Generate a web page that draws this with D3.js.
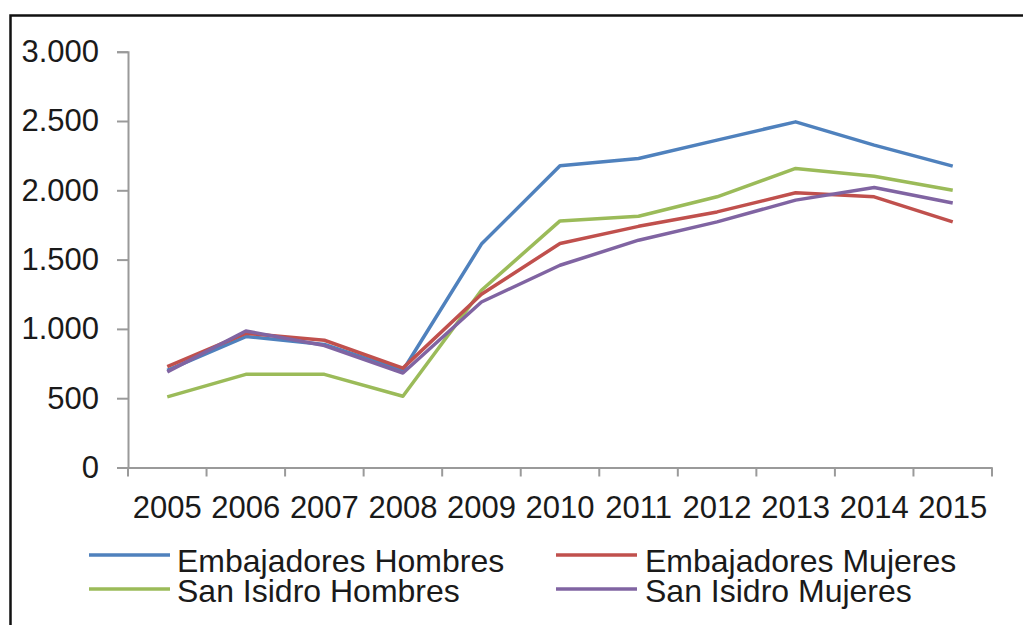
<!DOCTYPE html>
<html>
<head>
<meta charset="utf-8">
<script src="https://cdn.jsdelivr.net/npm/d3@7"></script>
<style>
  html, body { margin: 0; padding: 0; background: #fff; }
  svg { display: block; font-family: "Liberation Sans", Arial, Helvetica, sans-serif; }
</style>
</head>
<body>
<svg id="chart" width="1023" height="625"></svg>
<script>
const years = ["2005","2006","2007","2008","2009","2010","2011","2012","2013","2014","2015"];
const embajadoresHombres = [700, 945, 888, 700, 1612, 2177, 2230, 2362, 2494, 2326, 2174];
const embajadoresMujeres = [728, 968, 918, 717, 1250, 1616, 1740, 1844, 1982, 1953, 1772];
const sanIsidroHombres   = [510, 672, 672, 514, 1279, 1779, 1813, 1953, 2158, 2102, 2001];
const sanIsidroMujeres   = [690, 985, 880, 682, 1194, 1459, 1640, 1772, 1929, 2020, 1909];
const seriesNames = ["Embajadores Hombres", "Embajadores Mujeres", "San Isidro Hombres", "San Isidro Mujeres"];
const seriesColors = ["#4F81BD", "#C0504D", "#9BBB59", "#8064A2"];
const yTicks = [0, 500, 1000, 1500, 2000, 2500, 3000];

(function () {
const seriesData = [embajadoresHombres, embajadoresMujeres, sanIsidroHombres, sanIsidroMujeres];
const drawOrder = [0, 2, 1, 3];

const svg = d3.select("#chart");
const fontSize = 31;
const legendFontSize = 32;
const textColor = "#1a1a1a";
const axisColor = "#9a9a9a";

// frame (cropped at right and bottom)
svg.append("rect")
  .attr("x", 10.5).attr("y", 15.5)
  .attr("width", 1100).attr("height", 700)
  .attr("fill", "none").attr("stroke", "#111").attr("stroke-width", 2.5);

const plotLeft = 128, plotRight = 992, plotTop = 51.7, plotBottom = 467.5;

const x = d3.scaleBand().domain(years).range([plotLeft, plotRight]).padding(0);
const y = d3.scaleLinear().domain([0, 3000]).range([plotBottom, plotTop]);

const fmt = v => d3.format(",")(v).replace(/,/g, ".");

// Y axis
const yAxis = svg.append("g").attr("transform", `translate(${plotLeft},0)`)
  .call(d3.axisLeft(y).tickValues(yTicks).tickSize(11).tickPadding(18).tickFormat(fmt));
yAxis.select(".domain").attr("stroke", axisColor).attr("stroke-width", 2);
yAxis.selectAll(".tick line").attr("stroke", axisColor).attr("stroke-width", 2);
yAxis.selectAll(".tick text").attr("fill", textColor).attr("font-size", fontSize)
  .attr("font-family", "Liberation Sans, Arial, sans-serif");

// X axis
const xAxis = svg.append("g").attr("transform", `translate(0,${plotBottom})`)
  .call(d3.axisBottom(x).tickSize(0).tickPadding(28));
xAxis.select(".domain").attr("stroke", axisColor).attr("stroke-width", 2);
xAxis.selectAll(".tick text").attr("fill", textColor).attr("font-size", fontSize)
  .attr("font-family", "Liberation Sans, Arial, sans-serif");
const boundaries = years.map(d => x(d)).concat([x(years[years.length - 1]) + x.bandwidth()]);
svg.append("g").selectAll("line").data(boundaries).join("line")
  .attr("x1", d => d).attr("x2", d => d)
  .attr("y1", plotBottom).attr("y2", plotBottom + 9)
  .attr("stroke", axisColor).attr("stroke-width", 2);

// Lines
const line = d3.line()
  .x((d, i) => x(years[i]) + x.bandwidth() / 2)
  .y(d => y(d));

svg.append("g").selectAll("path").data(drawOrder).join("path")
  .attr("d", i => line(seriesData[i]))
  .attr("fill", "none")
  .attr("stroke", i => seriesColors[i])
  .attr("stroke-width", 3.5)
  .attr("stroke-linejoin", "round");

// Legend
const legendPos = [
  {lx1: 89, lx2: 170, tx: 177, ly: 555, ty: 572},
  {lx1: 556, lx2: 637, tx: 645, ly: 555, ty: 572},
  {lx1: 89, lx2: 170, tx: 177, ly: 589, ty: 602},
  {lx1: 556, lx2: 637, tx: 645, ly: 589, ty: 602}
];
const legend = svg.append("g");
seriesNames.forEach((name, i) => {
  const p = legendPos[i];
  legend.append("line")
    .attr("x1", p.lx1).attr("x2", p.lx2).attr("y1", p.ly).attr("y2", p.ly)
    .attr("stroke", seriesColors[i]).attr("stroke-width", 3.5);
  legend.append("text")
    .attr("x", p.tx).attr("y", p.ty)
    .attr("font-size", legendFontSize).attr("fill", textColor)
    .text(name);
});
})();
</script>
</body>
</html>
